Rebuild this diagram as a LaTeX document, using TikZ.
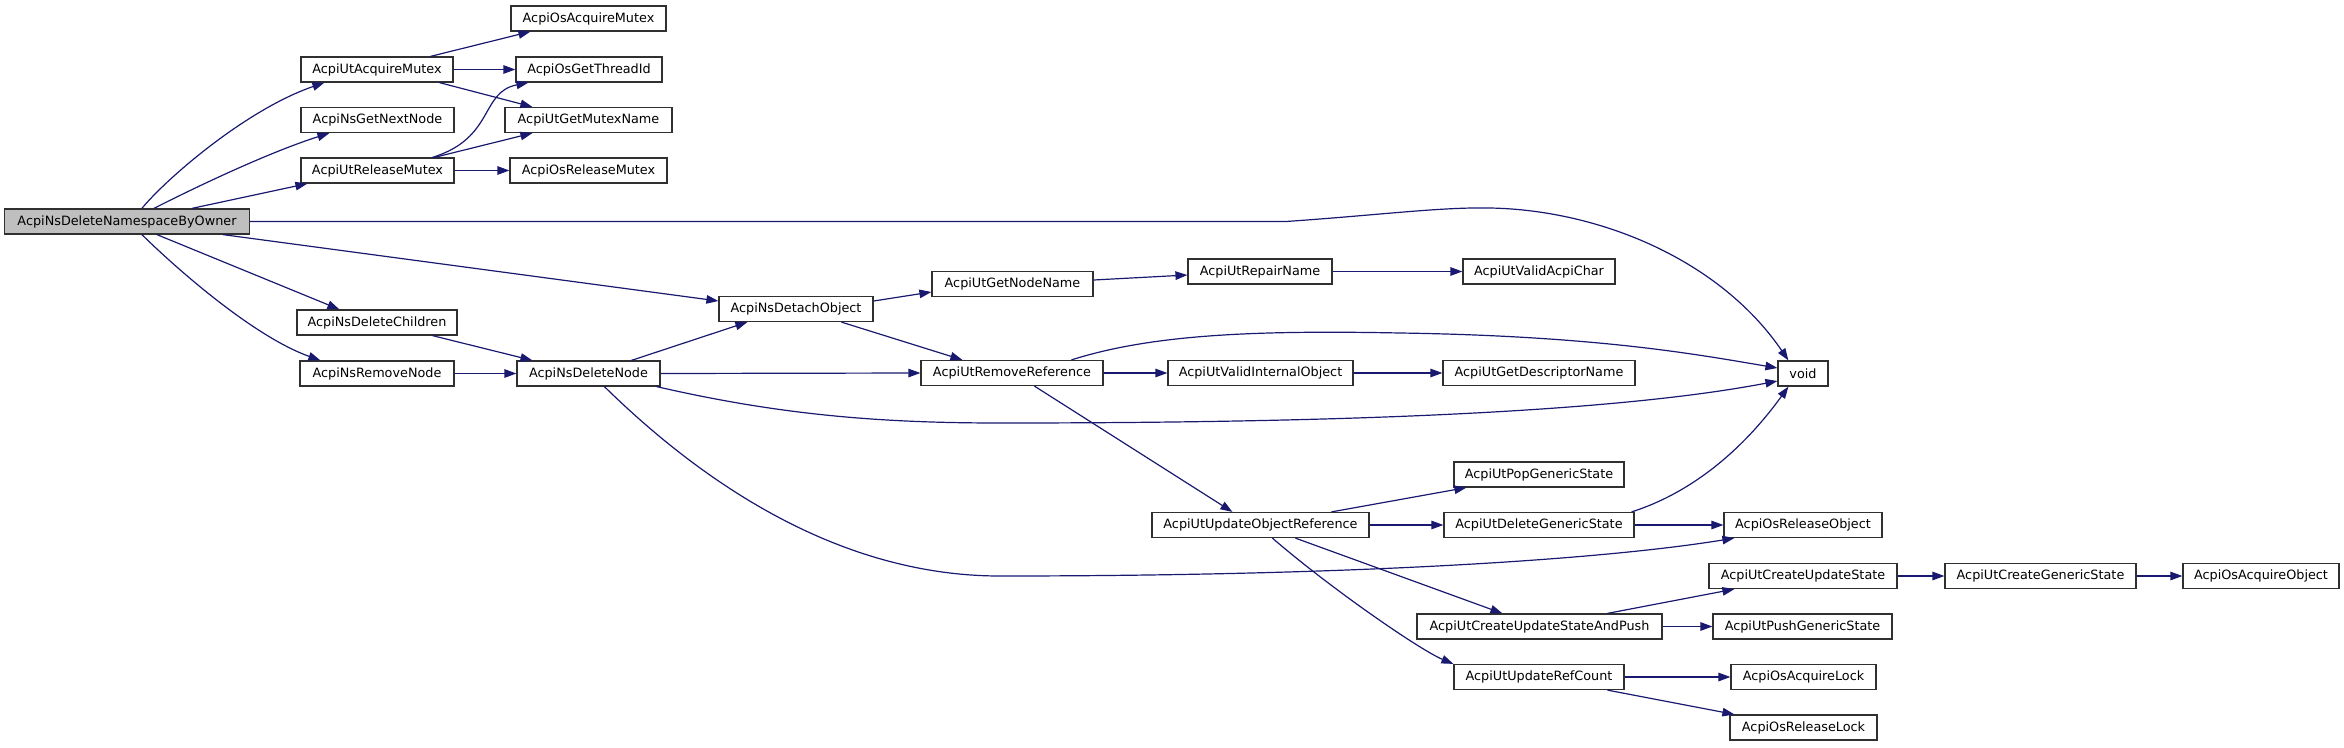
\documentclass[tikz,border=0pt]{standalone}
\usepackage{fontspec}
\setmainfont{DejaVu Sans}
\usetikzlibrary{arrows.meta,calc}
\definecolor{edgeblue}{HTML}{191970}
\definecolor{rootgray}{HTML}{BFBFBF}
\definecolor{boxline}{HTML}{303030}
\begin{document}
\begin{tikzpicture}[x=1pt,y=-1pt,
  box/.style={draw=boxline,line width=1.2pt,fill=white,inner sep=0pt,minimum height=25pt,font=\fontsize{12.8}{15}\selectfont},
  rootbox/.style={box,fill=rootgray},
  edge/.style={draw=edgeblue,line width=1.2pt,-{Triangle[length=12pt,width=8.5pt]},fill=none},
  every path/.append style={}]
\useasboundingbox (0,0) rectangle (2344,747);
% nodes
\node[rootbox,minimum width=245pt] (root) at (127,221.5) {AcpiNsDeleteNamespaceByOwner};
\node[box,minimum width=152pt] (utacq) at (377,69.5) {AcpiUtAcquireMutex};
\node[box,minimum width=153pt] (getnext) at (377.5,120) {AcpiNsGetNextNode};
\node[box,minimum width=153pt] (utrel) at (377.5,170.5) {AcpiUtReleaseMutex};
\node[box,minimum width=155pt] (osacqm) at (588.5,18.5) {AcpiOsAcquireMutex};
\node[box,minimum width=146pt] (thread) at (589,69.5) {AcpiOsGetThreadId};
\node[box,minimum width=167pt] (mutexname) at (588.5,120) {AcpiUtGetMutexName};
\node[box,minimum width=157pt] (osrelm) at (588.5,170.5) {AcpiOsReleaseMutex};
\node[box,minimum width=160pt] (delchildren) at (377,322.5) {AcpiNsDeleteChildren};
\node[box,minimum width=154pt] (removenode) at (377,373.5) {AcpiNsRemoveNode};
\node[box,minimum width=143pt] (deletenode) at (588.5,373.5) {AcpiNsDeleteNode};
\node[box,minimum width=154pt] (detach) at (796,309) {AcpiNsDetachObject};
\node[box,minimum width=161pt] (getnodename) at (1012.5,284) {AcpiUtGetNodeName};
\node[box,minimum width=144pt] (repair) at (1260,271.5) {AcpiUtRepairName};
\node[box,minimum width=152pt] (validchar) at (1539,271.5) {AcpiUtValidAcpiChar};
\node[box,minimum width=182pt] (removeref) at (1012,373) {AcpiUtRemoveReference};
\node[box,minimum width=185pt] (validint) at (1260.5,373) {AcpiUtValidInternalObject};
\node[box,minimum width=192pt] (descname) at (1539,373) {AcpiUtGetDescriptorName};
\node[box,minimum width=50pt] (void) at (1803,373.5) {void};
\node[box,minimum width=217pt] (updobj) at (1260.5,525) {AcpiUtUpdateObjectReference};
\node[box,minimum width=170pt] (popgen) at (1539,474.5) {AcpiUtPopGenericState};
\node[box,minimum width=190pt] (delgen) at (1539,525) {AcpiUtDeleteGenericState};
\node[box,minimum width=158pt] (osrelobj) at (1803,525) {AcpiOsReleaseObject};
\node[box,minimum width=188pt] (createupd) at (1803,576) {AcpiUtCreateUpdateState};
\node[box,minimum width=245pt] (cupush) at (1539.5,626.5) {AcpiUtCreateUpdateStateAndPush};
\node[box,minimum width=179pt] (pushgen) at (1802.5,626.5) {AcpiUtPushGenericState};
\node[box,minimum width=170pt] (refcount) at (1539,677) {AcpiUtUpdateRefCount};
\node[box,minimum width=145pt] (osacqlock) at (1803.5,677) {AcpiOsAcquireLock};
\node[box,minimum width=147pt] (osrellock) at (1803.5,727.5) {AcpiOsReleaseLock};
\node[box,minimum width=191pt] (creategen) at (2040.5,576) {AcpiUtCreateGenericState};
\node[box,minimum width=156pt] (osacqobj) at (2261,576) {AcpiOsAcquireObject};
% edges
\path[edge] ($(root.north west)+(138,0)$) .. controls (165,180) and (245,110) .. ($(utacq.south west)+(24,0)$);
\path[edge] ($(root.north west)+(150,0)$) .. controls (200,185) and (270,152) .. ($(getnext.south west)+(29,0)$);
\path[edge] ($(root.north west)+(188,0)$) -- ($(utrel.south west)+(7,0)$);
\path[edge] ($(utacq.north west)+(130,0)$) -- ($(osacqm.south west)+(20,0)$);
\path[edge] (utacq.east) -- (thread.west);
\path[edge] ($(utacq.south west)+(139,0)$) -- ($(mutexname.north west)+(28,0)$);
\path[edge] ($(utrel.north west)+(132,0)$) .. controls (495,138) and (480,92) .. ($(thread.south west)+(13,0)$);
\path[edge] ($(utrel.north west)+(134,0)$) -- ($(mutexname.south west)+(28,0)$);
\path[edge] (utrel.east) -- (osrelm.west);
\path[edge] (root.east) -- (1286,221.5) .. controls (1380,215) and (1440,207) .. (1490,208) .. controls (1600,210) and (1720,260) .. ($(void.north west)+(11,0)$);
\path[edge] ($(root.south west)+(219,0)$) -- ($(detach.west)+(0,-8)$);
\path[edge] ($(root.south west)+(153,0)$) -- ($(delchildren.north west)+(43,0)$);
\path[edge] ($(root.south west)+(138,0)$) .. controls (180,272) and (255,337) .. ($(removenode.north west)+(21,0)$);
\path[edge] ($(delchildren.south west)+(136,0)$) -- ($(deletenode.north west)+(16,0)$);
\path[edge] (removenode.east) -- (deletenode.west);
\path[edge] ($(deletenode.north west)+(115,0)$) -- ($(detach.south west)+(29,0)$);
\path[edge] (deletenode.east) -- (removeref.west);
\path[edge] ($(deletenode.south east)+(-4,0)$) .. controls (780,415) and (880,423) .. (1000,423) .. controls (1300,423) and (1600,415) .. ($(void.west)+(0,7.5)$);
\path[edge] ($(deletenode.south west)+(88,0)$) .. controls (715,495) and (850,576) .. (1000,576) .. controls (1350,576) and (1600,560) .. ($(osrelobj.south west)+(11,0)$);
\path[edge] ($(detach.east)+(0,-8)$) -- ($(getnodename.west)+(0,8)$);
\path[edge] ($(getnodename.east)+(0,-4)$) -- ($(repair.west)+(0,3.5)$);
\path[edge] (repair.east) -- (validchar.west);
\path[edge] ($(detach.south west)+(123,0)$) -- ($(removeref.north west)+(42,0)$);
\path[edge] (removeref.east) -- (validint.west);
\path[edge] (validint.east) -- (descname.west);
\path[edge] ($(removeref.north west)+(151,0)$) .. controls (1150,335) and (1250,330) .. (1400,333) .. controls (1600,336) and (1700,355) .. ($(void.west)+(0,-5.5)$);
\path[edge] ($(removeref.south west)+(114,0)$) -- ($(updobj.north west)+(81,0)$);
\path[edge] ($(updobj.north west)+(180,0)$) -- ($(popgen.south west)+(13,0)$);
\path[edge] (updobj.east) -- (delgen.west);
\path[edge] ($(updobj.south west)+(144,0)$) -- ($(cupush.north west)+(86,0)$);
\path[edge] ($(updobj.south west)+(121,0)$) .. controls (1330,588) and (1420,650) .. (refcount.north west);
\path[edge] ($(delgen.north east)+(-3,0)$) .. controls (1700,490) and (1750,440) .. ($(void.south west)+(11,0)$);
\path[edge] (delgen.east) -- (osrelobj.west);
\path[edge] ($(cupush.north west)+(191,0)$) -- ($(createupd.south west)+(26,0)$);
\path[edge] (cupush.east) -- (pushgen.west);
\path[edge] (createupd.east) -- (creategen.west);
\path[edge] (creategen.east) -- (osacqobj.west);
\path[edge] (refcount.east) -- (osacqlock.west);
\path[edge] ($(refcount.south west)+(154,0)$) -- ($(osrellock.north west)+(5,0)$);
\end{tikzpicture}
\end{document}
